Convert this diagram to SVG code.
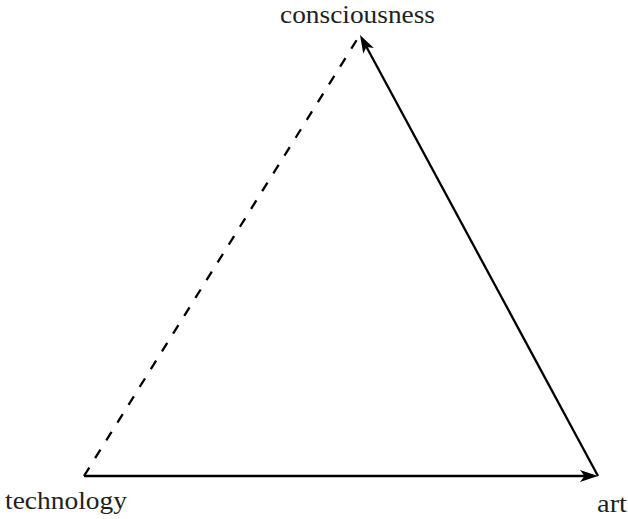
<svg xmlns="http://www.w3.org/2000/svg" width="628" height="519" viewBox="0 0 628 519">
<style>
.lbl{font-family:"Liberation Serif","DejaVu Serif",serif;font-size:26px;fill:#231f20}
.edge{stroke:#000;stroke-width:2.3;fill:none}
</style>
<defs>
<marker id="ah" markerUnits="userSpaceOnUse" markerWidth="20" markerHeight="20" refX="0" refY="0" orient="auto" overflow="visible">
<path d="M10,0 L-8,-6 L-3.5,0 L-8,6 Z" fill="#000"/>
</marker>
</defs>
<rect width="628" height="519" fill="#fff"/>
<g id="connectors">
<line class="edge" x1="84" y1="476" x2="588" y2="476" marker-end="url(#ah)"/>
<line class="edge" x1="598" y1="476" x2="364.75" y2="43.8" marker-end="url(#ah)"/>
<line class="edge" x1="84" y1="476" x2="358" y2="38" stroke-dasharray="10 11"/>
</g>
<g id="consciousness"><text class="lbl" x="280" y="23" textLength="155" lengthAdjust="spacingAndGlyphs">consciousness</text></g>
<g id="technology"><text class="lbl" x="5" y="509" textLength="122" lengthAdjust="spacingAndGlyphs">technology</text></g>
<g id="art"><text class="lbl" x="597" y="512" textLength="30" lengthAdjust="spacingAndGlyphs">art</text></g>
</svg>
